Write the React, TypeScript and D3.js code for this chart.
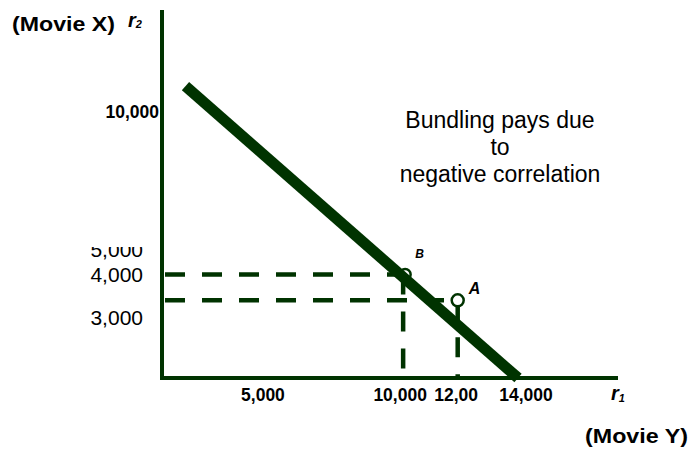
import * as d3 from "d3";

// bundle line (reservation prices r1 for Movie Y, r2 for Movie X)
const lineR1 = [2420, 14000];
const lineR2 = [11270, 0];

// consumers A and B
const pointNames = ["B", "A"];
const pointR1 = [10000, 11900];
const pointR2 = [4000, 3000];

// tick labels as printed on the slide
const yTickValues = [10000, 5000, 4000, 3000];
const yTickLabels = ["10,000", "5,000", "4,000", "3,000"];
const xTickValues = [5000, 10000, 12000, 14000];
const xTickLabels = ["5,000", "10,000", "12,00", "14,000"];

const noteLines = ["Bundling pays due", "to", "negative correlation"];

const W = 691;
const H = 450;
const GREEN = "#003300";
const FONT = "'Liberation Sans', Arial, Helvetica, sans-serif";

export default function App() {
  const x = d3.scaleLinear().domain([0, 14000]).range([116, 518]);
  const y = d3.scaleLinear().domain([0, 14000]).range([378, 15.4]);

  const axisX = 162;
  const axisY = 378;

  const linePts = lineR1.map((r1, i) => ({ r1, r2: lineR2[i] }));
  const line = d3
    .line<{ r1: number; r2: number }>()
    .x((d) => x(d.r1))
    .y((d) => y(d.r2));

  const pts = pointNames.map((name, i) => ({
    name,
    px: x(pointR1[i]),
    py: y(pointR2[i]),
  }));

  // the slide's labels sit a little off their values
  const yNudge: Record<number, number> = { 10000: -1, 5000: 8.5, 4000: 7.5, 3000: 24.7 };
  const xNudge: Record<number, number> = { 5000: 3.4, 10000: -3, 12000: -4.4, 14000: 8 };

  const dash = { stroke: GREEN, strokeWidth: 4.5, strokeDasharray: "20 17" };

  return (
    <svg
      width={W}
      height={H}
      style={{ position: "absolute", left: 0, top: 0, background: "#fff" }}
      fontFamily={FONT}
    >
      <defs>
        <clipPath id="clip5000">
          <rect x={0} y={247} width={160} height={40} />
        </clipPath>
      </defs>

      {/* dashed guides */}
      {pts.map((p) => (
        <g key={"g" + p.name}>
          <line x1={axisX + 3} x2={p.px} y1={p.py} y2={p.py} {...dash} />
          <line x1={p.px} x2={p.px} y1={p.py} y2={axisY} {...dash} />
        </g>
      ))}

      {/* B sits under the line */}
      <circle cx={pts[0].px + 2} cy={pts[0].py} r={5.5} fill="#fff" stroke={GREEN} strokeWidth={2.5} />

      {/* axes */}
      <line x1={axisX} x2={axisX} y1={10} y2={axisY + 2} stroke={GREEN} strokeWidth={4} />
      <line x1={axisX - 2} x2={618} y1={axisY} y2={axisY} stroke={GREEN} strokeWidth={4} />

      <path d={line(linePts) ?? ""} fill="none" stroke={GREEN} strokeWidth={11} />

      <circle cx={pts[1].px} cy={pts[1].py} r={6} fill="#fff" stroke={GREEN} strokeWidth={2.5} />

      {/* point labels */}
      <text x={pts[0].px + 12} y={pts[0].py - 16} fontSize={12} fontWeight="bold" fontStyle="italic">
        B
      </text>
      <text x={pts[1].px + 11} y={pts[1].py - 6} fontSize={16} fontWeight="bold" fontStyle="italic">
        A
      </text>

      {/* y tick labels */}
      {yTickValues.map((v, i) =>
        v === 10000 ? (
          <text key={v} x={159} y={y(v) + yNudge[v]} textAnchor="end" fontSize={17.5} fontWeight="bold">
            {yTickLabels[i]}
          </text>
        ) : (
          <text
            key={v}
            x={143}
            y={y(v) + yNudge[v]}
            textAnchor="end"
            fontSize={21}
            clipPath={v === 5000 ? "url(#clip5000)" : undefined}
          >
            {yTickLabels[i]}
          </text>
        )
      )}

      {/* x tick labels */}
      {xTickValues.map((v, i) => (
        <text key={v} x={x(v) + xNudge[v]} y={401} textAnchor="middle" fontSize={17.5} fontWeight="bold">
          {xTickLabels[i]}
        </text>
      ))}

      {/* axis names */}
      <text x={12} y={31} fontSize={20} fontWeight="bold" textLength={103} lengthAdjust="spacingAndGlyphs">
        (Movie X)
      </text>
      <text x={128} y={27} fontSize={20} fontWeight="bold" fontStyle="italic">
        r<tspan fontSize={11} dy={1}>2</tspan>
      </text>
      <text x={611} y={400} fontSize={20} fontWeight="bold" fontStyle="italic">
        r<tspan fontSize={11} dy={1.5}>1</tspan>
      </text>
      <text x={585} y={443} fontSize={20} fontWeight="bold" textLength={103} lengthAdjust="spacingAndGlyphs">
        (Movie Y)
      </text>

      {/* note */}
      {noteLines.map((t, i) => (
        <text key={t} x={500} y={128 + i * 27} textAnchor="middle" fontSize={23}>
          {t}
        </text>
      ))}
    </svg>
  );
}
